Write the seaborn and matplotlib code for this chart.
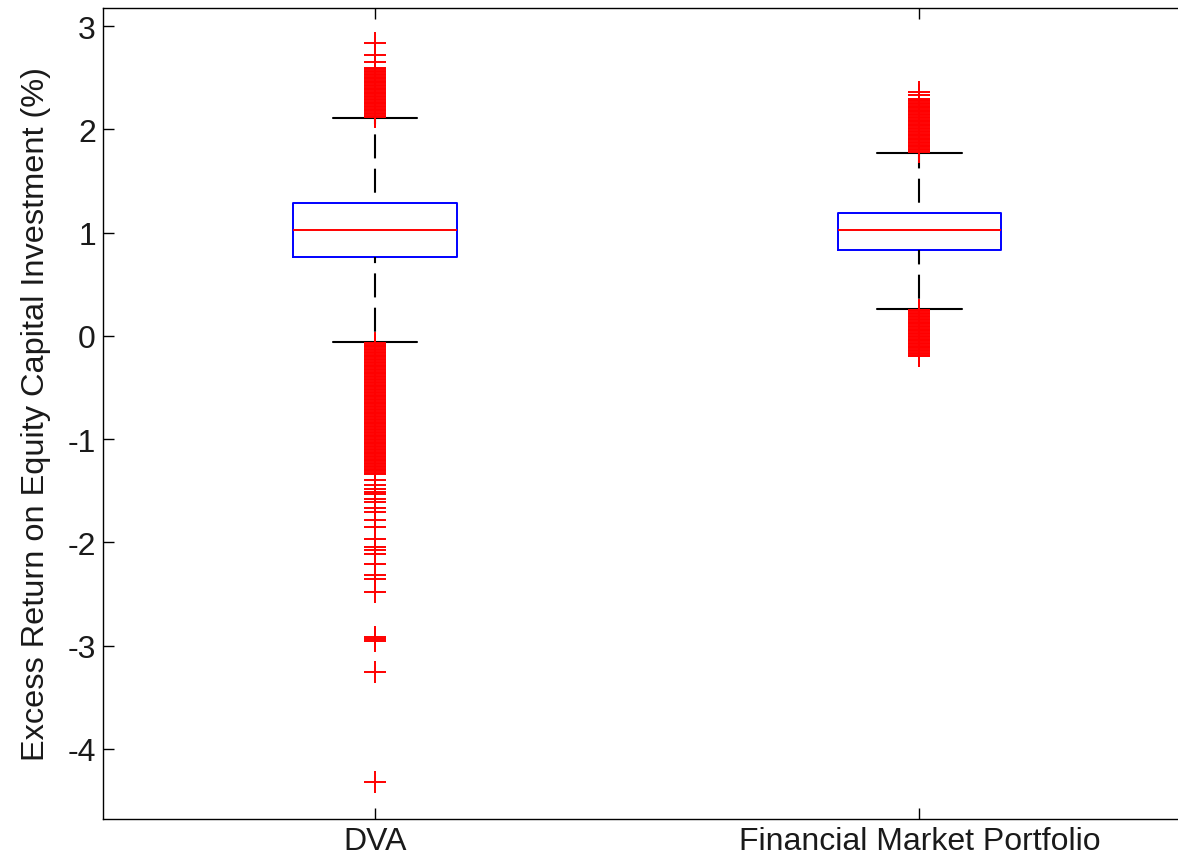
import matplotlib
matplotlib.use("Agg")
import matplotlib.pyplot as plt
import pandas as pd
import seaborn as sns

# Summary statistics of excess return (%) for each strategy
categories = ["DVA", "Financial Market Portfolio"]
medians = [1.026, 1.026]
lower_quartiles = [0.759, 0.833]
upper_quartiles = [1.291, 1.194]
whisker_low = [-0.064, 0.258]
whisker_high = [2.114, 1.775]

# Observations beyond the whiskers
dva_outliers = [
    2.121, 2.133, 2.148, 2.160, 2.175, 2.187, 2.201, 2.214, 2.229, 2.241,
    2.256, 2.268, 2.283, 2.295, 2.310, 2.322, 2.337, 2.349, 2.364, 2.376,
    2.391, 2.403, 2.418, 2.430, 2.445, 2.457, 2.472, 2.484, 2.499, 2.511,
    2.526, 2.538, 2.553, 2.565, 2.580, 2.594, 2.647, 2.720, 2.840,
    -0.071, -0.085, -0.098, -0.112, -0.127, -0.140, -0.154, -0.167, -0.181,
    -0.196, -0.209, -0.223, -0.236, -0.250, -0.265, -0.278, -0.292, -0.305,
    -0.319, -0.334, -0.347, -0.361, -0.374, -0.388, -0.403, -0.416, -0.430,
    -0.443, -0.457, -0.472, -0.485, -0.499, -0.512, -0.526, -0.541, -0.554,
    -0.568, -0.581, -0.595, -0.610, -0.623, -0.637, -0.650, -0.664, -0.679,
    -0.692, -0.706, -0.719, -0.733, -0.748, -0.761, -0.775, -0.788, -0.802,
    -0.817, -0.830, -0.844, -0.857, -0.871, -0.886, -0.899, -0.913, -0.926,
    -0.940, -0.955, -0.968, -0.982, -0.995, -1.009, -1.024, -1.037, -1.051,
    -1.064, -1.078, -1.093, -1.106, -1.120, -1.133, -1.147, -1.162, -1.175,
    -1.189, -1.202, -1.216, -1.231, -1.244, -1.258, -1.271, -1.285, -1.300,
    -1.313, -1.327, -1.340,
    -1.398, -1.442, -1.487, -1.510, -1.533, -1.582, -1.608, -1.662, -1.708,
    -1.781, -1.852, -1.971, -2.042, -2.071, -2.116, -2.213, -2.314, -2.355,
    -2.478, -2.912, -2.935, -2.952, -3.252, -4.317,
]
fmp_outliers = [
    1.784, 1.797, 1.811, 1.824, 1.839, 1.851, 1.866, 1.878, 1.893, 1.905,
    1.920, 1.932, 1.947, 1.959, 1.974, 1.986, 2.001, 2.013, 2.028, 2.040,
    2.055, 2.067, 2.082, 2.094, 2.109, 2.121, 2.136, 2.148, 2.163, 2.175,
    2.190, 2.202, 2.217, 2.229, 2.244, 2.256, 2.271, 2.283, 2.290, 2.333,
    2.359,
    0.249, 0.236, 0.222, 0.208, 0.194, 0.181, 0.167, 0.153, 0.139, 0.126,
    0.112, 0.098, 0.084, 0.071, 0.057, 0.043, 0.029, 0.016, 0.002, -0.012,
    -0.026, -0.039, -0.053, -0.067, -0.081, -0.094, -0.108, -0.122, -0.136,
    -0.149, -0.163, -0.177, -0.191, -0.199,
]

y_ticks = [-4, -3, -2, -1, 0, 1, 2, 3]
y_label = "Excess Return on Equity Capital Investment (%)"

sns.set_theme(style="white")
plt.rcParams["font.family"] = ["Liberation Sans", "DejaVu Sans"]
plt.rcParams["lines.scale_dashes"] = False

fig = plt.figure(figsize=(11.78, 8.62), dpi=100)
ax = fig.add_axes([0.0873, 0.0487, 0.9242, 0.9408])

positions = [1, 2]
stats = [
    dict(med=m, q1=a, q3=b, whislo=lo, whishi=hi, fliers=[], label=c)
    for c, m, a, b, lo, hi in zip(categories, medians, lower_quartiles,
                                  upper_quartiles, whisker_low, whisker_high)
]
parts = ax.bxp(
    stats, positions=positions, widths=0.30, capwidths=0.156,
    showfliers=False, manage_ticks=False,
    boxprops=dict(color="#0000ff", linewidth=1.4),
    medianprops=dict(color="#ff0000", linewidth=1.4),
    whiskerprops=dict(color="black", linewidth=1.5),
    capprops=dict(color="black", linewidth=1.5),
)

# Whiskers run from the lower value to the higher one, starting on a gap
for i, wl in enumerate(parts["whiskers"]):
    if i % 2 == 0:
        xd, yd = wl.get_data()
        wl.set_data(list(xd)[::-1], list(yd)[::-1])
    wl.set_linestyle((17.3, (17.3, 7.4)))

out_df = pd.DataFrame({
    "position": [positions[0]] * len(dva_outliers) + [positions[1]] * len(fmp_outliers),
    "value": dva_outliers + fmp_outliers,
})
sns.scatterplot(data=out_df, x="position", y="value", marker="+", s=240,
                color="#ff0000", linewidth=1.4, ax=ax, zorder=4, legend=False)

ax.set_xlim(0.5, 2.5)
ax.set_ylim(-4.678, 3.174)
ax.set_xticks(positions)
ax.set_xticklabels(categories)
ax.set_yticks(y_ticks)
ax.set_yticklabels([str(t) for t in y_ticks])
ax.set_xlabel("")
ax.set_ylabel(y_label, fontsize=23.4, color="#1a1a1a", labelpad=12)
ax.tick_params(axis="both", direction="in", length=7.9, width=1.0,
               colors="black", labelcolor="#1a1a1a", labelsize=23,
               left=True, bottom=True, top=True, right=True, pad=5)
for sp in ax.spines.values():
    sp.set_visible(True)
    sp.set_color("black")
    sp.set_linewidth(1.0)

fig.savefig("out.png", dpi=100)
